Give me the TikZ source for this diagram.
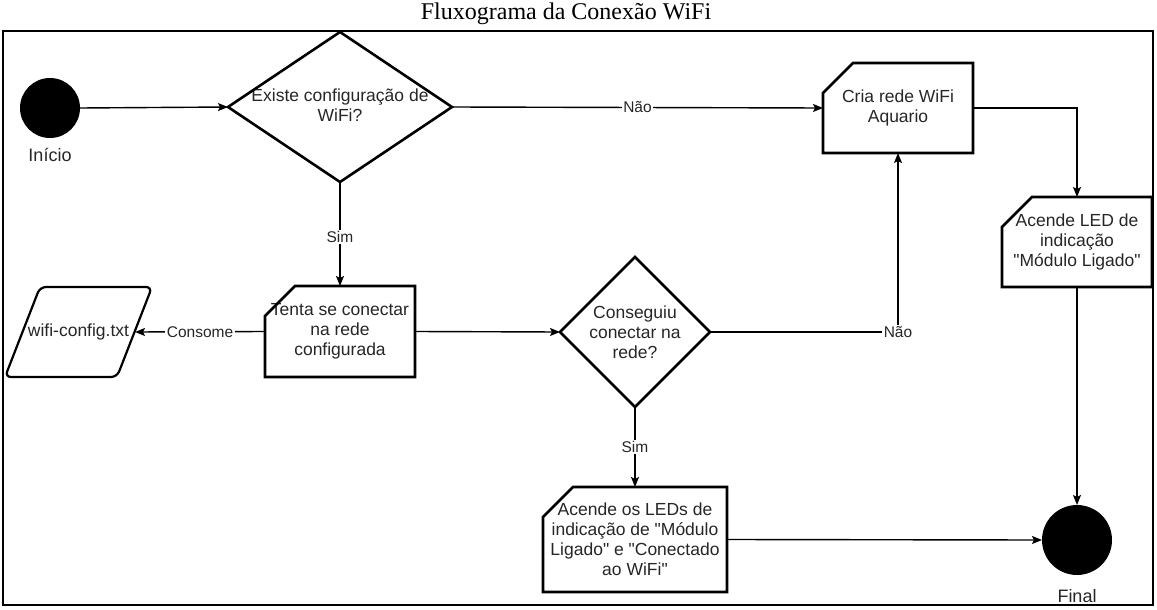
\documentclass[tikz,border=0pt]{standalone}
\usepackage{fontspec}
\setmainfont{Liberation Serif}
\newfontfamily\arialf{Liberation Sans}
\usetikzlibrary{arrows.meta,calc}
\tikzset{
  boxtext/.style={draw=none, rectangle, inner sep=0pt, outer sep=0pt, align=center,
    font=\arialf\fontsize{17.5}{20}\selectfont, text=black!85},
  shapeline/.style={line width=2.6pt, line join=miter},
  conn/.style={line width=1.4pt, -{Stealth[length=10pt,width=8pt,inset=2pt]}},
  plainconn/.style={line width=1.4pt},
  lbl/.style={fill=white, inner sep=1.5pt, font=\arialf\fontsize{15.5}{17}\selectfont, text=black!85},
  caption/.style={inner sep=0pt, font=\arialf\fontsize{18}{20}\selectfont, text=black!85},
  dot/.style={circle, fill=black, inner sep=0pt, outer sep=0pt}
}
\begin{document}
\begin{tikzpicture}[x=1pt,y=-1pt]
\useasboundingbox (0,0) rectangle (1157,610);
% title and frame
\node[inner sep=0pt, font=\fontsize{24}{26}\selectfont] (title) at (566,14) {Fluxograma da Conexão WiFi};
\draw[line width=2pt] (3,31) rectangle (1153,605);

% start / end
\node[dot, minimum size=60pt] (start) at (50,108) {};
\node[caption] (startlbl) at (50,155) {Início};
\node[dot, minimum size=70pt] (final) at (1077,540) {};
\node[caption] (finallbl) at (1077,596) {Final};

% decision 1
\node[boxtext, minimum width=224pt, minimum height=150pt] (d1) at (340,107) {\raisebox{-3pt}{\begin{tabular}{@{}c@{}}Existe configuração de\\WiFi?\end{tabular}}};
\draw[shapeline] (d1.west) -- (d1.north) -- (d1.east) -- (d1.south) -- cycle;

% decision 2
\node[boxtext, minimum width=150pt, minimum height=150pt] (d2) at (635,332) {Conseguiu\\conectar na\\rede?};
\draw[shapeline] (d2.west) -- (d2.north) -- (d2.east) -- (d2.south) -- cycle;

% process boxes (chamfered top-left corner)
\node[boxtext, minimum width=150pt, minimum height=90pt] (cria) at (898,108) {Cria rede WiFi\\Aquario};
\draw[shapeline] ([xshift=30pt]cria.north west) -- (cria.north east) -- (cria.south east) -- (cria.south west) -- ([yshift=-30pt]cria.north west) -- cycle;

\node[boxtext, minimum width=150pt, minimum height=90pt] (led1) at (1077,242) {Acende LED de\\indicação\\"Módulo Ligado"};
\draw[shapeline] ([xshift=30pt]led1.north west) -- (led1.north east) -- (led1.south east) -- (led1.south west) -- ([yshift=-30pt]led1.north west) -- cycle;

\node[boxtext, minimum width=150pt, minimum height=91pt] (tenta) at (340,331.5) {Tenta se conectar\\na rede\\configurada};
\draw[shapeline] ([xshift=30pt]tenta.north west) -- (tenta.north east) -- (tenta.south east) -- (tenta.south west) -- ([yshift=-30pt]tenta.north west) -- cycle;

\node[boxtext, minimum width=184pt, minimum height=105pt] (leds) at (635,539.5) {Acende os LEDs de\\indicação de "Módulo\\Ligado" e "Conectado\\ao WiFi"};
\draw[shapeline] ([xshift=30pt]leds.north west) -- (leds.north east) -- (leds.south east) -- (leds.south west) -- ([yshift=-30pt]leds.north west) -- cycle;

% data (parallelogram)
\node[boxtext, minimum width=147pt, minimum height=90pt] (wifi) at (78.5,332) {wifi-config.txt};
\draw[line width=2.2pt, rounded corners=6pt] ([xshift=35pt]wifi.north west) -- (wifi.north east) -- ([xshift=-35pt]wifi.south east) -- (wifi.south west) -- cycle;

% connectors
\draw[conn] (start.east) -- (d1.west);
\draw[conn] (d1.east) -- node[lbl, pos=0.5] {Não} (cria.west);
\draw[conn] (cria.east) -| (led1.north);
\draw[conn] (led1.south) -- (final.north);
\draw[conn] (d1.south) -- node[lbl, pos=0.53] {Sim} (tenta.north);
\draw[conn] (tenta.west) -- node[lbl, pos=0.5] {Consome} ([xshift=-17pt]wifi.east);
\draw[conn] (tenta.east) -- (d2.west);
\coordinate (corner) at (cria.south |- d2.east);
\draw[plainconn] (d2.east) -- (corner);
\draw[conn] (corner) -- (cria.south);
\node[lbl] (nao2) at (corner) {Não};
\draw[conn] (d2.south) -- node[lbl, pos=0.5] {Sim} (leds.north);
\draw[conn] (leds.east) -- (final.west);
\end{tikzpicture}
\end{document}
